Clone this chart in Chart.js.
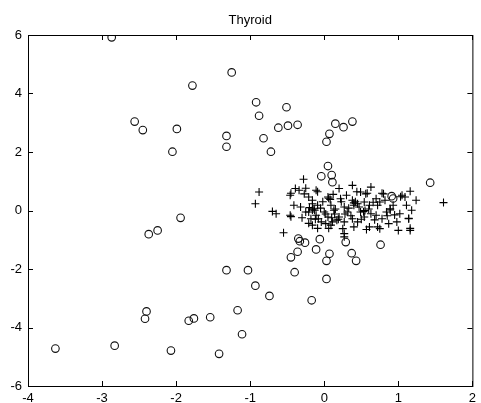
<!DOCTYPE html>
<html>
<head>
<meta charset="utf-8">
<title>Thyroid</title>
<script src="https://cdn.jsdelivr.net/npm/chart.js@4/dist/chart.umd.min.js"></script>
<style>
    body { margin: 0; background: #fff; }
    canvas { display: block; }
</style>
</head>
<body>
<canvas id="thyroidChart" width="481" height="403"></canvas>
<script>
const titleText = 'Thyroid';
const xTicks = [-4, -3, -2, -1, 0, 1, 2];
const yTicks = [-6, -4, -2, 0, 2, 4, 6];

// clase "o"
const circleX = [-2.87, -1.25, -1.78, -0.92, -0.88, -2.56, -2.45, -1.99, -1.32, -1.32, -2.05, -1.94,
    -2.37, -2.25, -1.32, -1.03, -0.93, -0.74, -2.40, -2.42, -1.83, -1.76, -1.54, -1.17, -1.11,
    -3.63, -2.83, -2.07, -1.42, -0.51, -0.62, -0.49, -0.36, -0.82, -0.72, 0.15, 0.26, 0.38, 0.07,
    0.03, 0.05, -0.04, 0.10, 0.11, 1.43, 0.91, 0.93, -0.35, -0.33, -0.26, -0.06, -0.11, -0.36,
    -0.45, 0.07, 0.03, 0.29, 0.37, 0.43, 0.76, -0.40, 0.03, -0.17];
const circleY = [5.92, 4.72, 4.27, 3.70, 3.24, 3.04, 2.75, 2.79, 2.55, 2.18, 2.01, -0.25,
    -0.81, -0.68, -2.04, -2.04, -2.57, -2.92, -3.45, -3.70, -3.77, -3.69, -3.65, -3.41, -4.23,
    -4.72, -4.62, -4.79, -4.90, 3.53, 2.83, 2.90, 2.93, 2.47, 2.01, 2.97, 2.85, 3.04, 2.62,
    2.35, 1.52, 1.17, 1.21, 0.97, 0.95, 0.49, 0.41, -0.96, -1.05, -1.10, -0.98, -1.33, -1.41,
    -1.60, -1.48, -1.72, -1.08, -1.46, -1.72, -1.17, -2.11, -2.34, -3.07];

// clase "+"
const plusX = [-0.88, -0.93, -0.70, -0.65, -0.46, -0.55, -0.46, -0.28, -0.39, -0.34, -0.27, -0.21,
    -0.16, -0.21, -0.18, -0.16, -0.41, -0.32, -0.45, -0.21, -0.09, 0.06, 0.38, 0.63, 0.20, -0.11,
    0.49, 0.56, 0.05, 0.22, 0.38, 0.45, 0.54, 0.70, -0.16, -0.09, 0.09, 0.27, 0.40, 0.61, 0.72,
    -0.13, 0.00, 0.13, 0.31, 0.49, 0.63, -0.11, 0.05, 0.20, 0.38, 0.54, 0.70, -0.04, 0.11, 0.27,
    0.45, 0.61, 0.25, 0.27, 0.27, 0.09, 0.40, 0.72, 1.16, 1.24, 1.61, 1.05, 0.80, 0.75, 1.11,
    1.18, 1.02, 1.14, 0.98, 1.16, 1.00, 0.75, 0.87, 0.84, 0.93, 0.78, 0.89, 1.09, 0.57, 0.06,
    0.08, 0.40, 0.42, 0.53, 0.55, -0.16, -0.14, 0.17, 0.19, -0.45, -0.25, -0.09, 0.44, 0.58,
    0.78, 1.03, 0.89, 1.14, 1.16,
    -0.25, -0.20, -0.05, 0.02, 0.10, 0.15, 0.23, 0.28, 0.33, 0.36, 0.47, 0.50, 0.60, 0.66,
    0.68, 0.82, 0.85, 0.95, -0.02, 0.12, 0.30, -0.12, 0.02, 0.14, -0.08, -0.30];
const plusY = [0.63, 0.23, -0.03, -0.11, -0.16, -0.76, 0.52, 1.07, 0.75, 0.69, 0.57, 0.46,
    0.35, -0.05, -0.28, -0.50, 0.18, 0.12, -0.21, -0.44, -0.61, -0.61, 0.86, 0.80, 0.75, 0.69,
    0.63, 0.57, 0.46, 0.40, 0.35, 0.23, 0.29, 0.40, 0.23, 0.18, 0.18, 0.12, 0.18, 0.18, 0.18,
    0.01, -0.05, 0.01, -0.05, -0.05, -0.11, -0.16, -0.22, -0.22, -0.28, -0.22, -0.16, -0.39, -0.39, -0.39,
    -0.39, -0.56, -0.62, -0.79, -0.90, -0.50, -0.56, -0.56, 0.66, 0.35, 0.27, 0.52, 0.57, 0.29, 0.18,
    0.01, -0.11, -0.28, -0.39, -0.68, -0.68, -0.62, -0.45, -0.05, 0.18, -0.28, 0.06, 0.46, -0.65, 0.42,
    0.38, 0.26, 0.30, -0.04, 0.00, 0.02, 0.06, -0.33, -0.30, 0.59, 0.76, 0.64, 0.64, 0.59,
    0.59, 0.47, 0.02, -0.27, -0.61,
    -0.05, 0.10, 0.08, -0.12, -0.25, 0.05, 0.30, -0.12, 0.08, -0.18, 0.12, -0.30, 0.05, 0.28,
    -0.32, 0.35, -0.18, -0.15, 0.30, 0.55, 0.52, -0.30, -0.45, -0.12, -0.28, -0.25];

/**
 * Junta dos arrays de coordenadas en puntos {x, y}
 */
function toPoints(xs, ys){
    return xs.map((x, i) => ({ x: x, y: ys[i] }));
}

// marco, marcas hacia dentro y título
const framePlugin = {
    id: 'frame',
    afterDraw(chart){
        const ctx = chart.ctx;
        const a = chart.chartArea;
        const x = chart.scales.x;
        const y = chart.scales.y;
        ctx.save();
        ctx.strokeStyle = '#000';
        ctx.lineWidth = 1;
        ctx.strokeRect(a.left + 0.5, a.top + 0.5, a.right - a.left, a.bottom - a.top);
        ctx.beginPath();
        xTicks.forEach(v => {
            const px = Math.round(x.getPixelForValue(v)) + 0.5;
            ctx.moveTo(px, a.bottom); ctx.lineTo(px, a.bottom - 5);
            ctx.moveTo(px, a.top); ctx.lineTo(px, a.top + 5);
        });
        yTicks.forEach(v => {
            const py = Math.round(y.getPixelForValue(v)) + 0.5;
            ctx.moveTo(a.left, py); ctx.lineTo(a.left + 5, py);
            ctx.moveTo(a.right, py); ctx.lineTo(a.right - 5, py);
        });
        ctx.stroke();
        ctx.fillStyle = '#000';
        ctx.font = '13px "Liberation Sans", Arial, sans-serif';
        ctx.textAlign = 'center';
        ctx.textBaseline = 'alphabetic';
        ctx.fillText(titleText, (a.left + a.right) / 2, 24);
        ctx.restore();
    }
};

const ctx = document.getElementById('thyroidChart').getContext('2d');
const thyroidChart = new Chart(ctx, {
    type: 'scatter',
    data: {
        datasets: [{
            label: 'o',
            data: toPoints(circleX, circleY),
            pointStyle: 'circle',
            pointRadius: 3.8,
            borderColor: '#111',
            backgroundColor: 'rgba(0,0,0,0)',
            borderWidth: 1.1
        }, {
            label: '+',
            data: toPoints(plusX, plusY),
            pointStyle: 'cross',
            pointRadius: 4,
            borderColor: '#000',
            borderWidth: 1.1
        }]
    },
    options: {
        responsive: false,
        animation: false,
        layout: { padding: { top: 35, right: 7, bottom: 0, left: 0 } },
        plugins: {
            legend: { display: false },
            title: { display: false },
            tooltip: { enabled: false }
        },
        scales: {
            x: {
                type: 'linear',
                min: -4,
                max: 2,
                afterBuildTicks: s => { s.ticks = xTicks.map(v => ({ value: v })); },
                afterFit: s => { s.height = 17; },
                grid: { display: false, drawTicks: false },
                border: { display: false },
                ticks: {
                    color: '#000',
                    padding: 5,
                    maxRotation: 0,
                    font: { family: '"Liberation Sans", Arial, sans-serif', size: 13 }
                }
            },
            y: {
                type: 'linear',
                min: -6,
                max: 6,
                afterBuildTicks: s => { s.ticks = yTicks.map(v => ({ value: v })); },
                afterFit: s => { s.width = 28; },
                grid: { display: false, drawTicks: false },
                border: { display: false },
                ticks: {
                    color: '#000',
                    padding: 6,
                    font: { family: '"Liberation Sans", Arial, sans-serif', size: 13 }
                }
            }
        }
    },
    plugins: [framePlugin]
});
</script>
</body>
</html>
